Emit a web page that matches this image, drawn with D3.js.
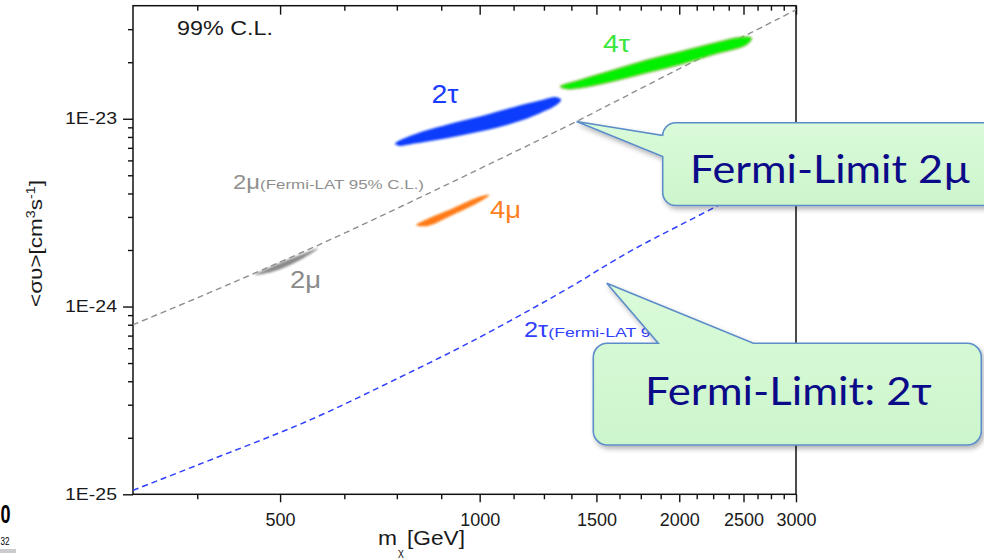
<!DOCTYPE html>
<html><head><meta charset="utf-8">
<script src="https://cdn.jsdelivr.net/npm/d3@7"></script>
<style>
html,body{margin:0;padding:0;background:#fff;}
svg{display:block;}
text{font-family:"Liberation Sans",Arial,sans-serif;}
</style></head><body>
<svg id="chart" width="984" height="559"></svg>
<script>
// ---------- data ----------
const xMajorTicks = [500, 1000, 1500, 2000, 2500, 3000];
const xMinorTicks = [375, 625, 750, 875, 1125, 1250, 1375, 1625, 1750, 1875, 2125, 2250, 2375, 2625, 2750, 2875];
const yMajorTicks = [1e-25, 1e-24, 1e-23];
const yMajorLabels = ["1E-25", "1E-24", "1E-23"];
const yMinorTicks = [2e-25, 3e-25, 4e-25, 5e-25, 6e-25, 7e-25, 8e-25, 9e-25,
                     2e-24, 3e-24, 4e-24, 5e-24, 6e-24, 7e-24, 8e-24, 9e-24, 2e-23, 3e-23];

// Fermi-LAT 95% C.L. limits
const limit2muMass  = [300, 379, 595, 1060, 1399, 1960, 2805, 3000];
const limit2muSigma = [8.0e-25, 1.13e-24, 2.27e-24, 5.98e-24, 9.67e-24, 1.78e-23, 3.37e-23, 3.81e-23];
const limit2tauMass  = [300, 375, 555, 758, 955, 1203, 1416, 1517, 1722, 2273, 3000];
const limit2tauSigma = [1.05e-25, 1.43e-25, 2.49e-25, 4.2e-25, 6.3e-25, 9.79e-25, 1.36e-24, 1.58e-24, 2.05e-24, 3.41e-24, 5.8e-24];

// 99% C.L. fit regions (outline)
const region2muMass  = [458, 488, 536, 571, 536, 488];
const region2muSigma = [1.473e-24, 1.645e-24, 1.883e-24, 2.044e-24, 1.771e-24, 1.535e-24];
const region4muMass  = [802, 832, 912, 1001, 1034, 1001, 912, 832];
const region4muSigma = [2.72e-24, 2.92e-24, 3.34e-24, 3.85e-24, 3.93e-24, 3.62e-24, 3.08e-24, 2.68e-24];
const region2tauMass  = [745, 794, 892, 1001, 1124, 1233, 1307, 1327, 1307, 1233, 1124, 1001, 892, 794, 758];
const region2tauSigma = [7.35e-24, 8.21e-24, 9.28e-24, 1.027e-23, 1.153e-23, 1.25e-23, 1.303e-23, 1.261e-23, 1.186e-23, 1.071e-23, 9.48e-24, 8.55e-24, 7.88e-24, 7.35e-24, 7.17e-24];
const region4tauMass  = [1322, 1417, 1590, 1786, 2005, 2251, 2470, 2572, 2528, 2251, 2005, 1786, 1590, 1417, 1345];
const region4tauSigma = [1.485e-23, 1.612e-23, 1.822e-23, 2.06e-23, 2.28e-23, 2.53e-23, 2.72e-23, 2.69e-23, 2.475e-23, 2.19e-23, 1.937e-23, 1.75e-23, 1.578e-23, 1.455e-23, 1.443e-23];

// callout anchor points (data units)
const callout2muTip  = [1400, 9.67e-24];
const callout2tauTip = [1555, 1.33e-24];

// ---------- drawing ----------
const zip = (a, b) => a.map((v, i) => [v, b[i]]);
const svg = d3.select("#chart");
const P = {left: 133, right: 796, top: 5.7, bottom: 494.3};
const x = d3.scaleLog().domain([300, 3000]).range([P.left, P.right]);
const y = d3.scaleLog().domain([1e-25, 4e-23]).range([P.bottom, P.top]);

const defs = svg.append("defs");
defs.append("clipPath").attr("id", "clip").append("rect")
  .attr("x", P.left).attr("y", P.top).attr("width", P.right - P.left).attr("height", P.bottom - P.top);
defs.append("filter").attr("id", "blur").attr("x", "-20%").attr("y", "-50%").attr("width", "140%").attr("height", "200%")
  .append("feGaussianBlur").attr("stdDeviation", 0.9);
const sh = defs.append("filter").attr("id", "shadow").attr("x", "-10%").attr("y", "-20%").attr("width", "130%").attr("height", "150%");
sh.append("feDropShadow").attr("dx", 2).attr("dy", 3).attr("stdDeviation", 2.5)
  .attr("flood-color", "#000").attr("flood-opacity", 0.3);
const gr = defs.append("linearGradient").attr("id", "boxfill").attr("x1", 0).attr("y1", 0).attr("x2", 0).attr("y2", 1);
gr.append("stop").attr("offset", "0%").attr("stop-color", "#dafbd9");
gr.append("stop").attr("offset", "100%").attr("stop-color", "#cdf5cc");

function styleAxis(g) {
  g.select(".domain").remove();
  g.selectAll(".tick line").attr("stroke", "#111").attr("stroke-width", 1.4);
}

// bottom axis
const gxMaj = svg.append("g").attr("transform", `translate(0,${P.bottom})`)
  .call(d3.axisBottom(x).tickValues(xMajorTicks).tickFormat(d => d).tickSize(8).tickPadding(11));
styleAxis(gxMaj);
gxMaj.selectAll("text").style("font-size", "18px").attr("fill", "#1a1a1a");
const gxMin = svg.append("g").attr("transform", `translate(0,${P.bottom})`)
  .call(d3.axisBottom(x).tickValues(xMinorTicks).tickFormat("").tickSize(5));
styleAxis(gxMin);

// top axis (inside ticks)
const gtMaj = svg.append("g").attr("transform", `translate(0,${P.top})`)
  .call(d3.axisTop(x).tickValues(xMajorTicks).tickFormat("").tickSize(-9));
styleAxis(gtMaj);
const gtMin = svg.append("g").attr("transform", `translate(0,${P.top})`)
  .call(d3.axisTop(x).tickValues(xMinorTicks).tickFormat("").tickSize(-5));
styleAxis(gtMin);

// left axis
const gyMaj = svg.append("g").attr("transform", `translate(${P.left},0)`)
  .call(d3.axisLeft(y).tickValues(yMajorTicks).tickFormat((d, i) => yMajorLabels[i]).tickSize(10).tickPadding(6));
styleAxis(gyMaj);
gyMaj.selectAll("text").style("font-size", "16px").attr("fill", "#1a1a1a")
  .attr("textLength", 52).attr("lengthAdjust", "spacingAndGlyphs");
const gyMin = svg.append("g").attr("transform", `translate(${P.left},0)`)
  .call(d3.axisLeft(y).tickValues(yMinorTicks).tickFormat("").tickSize(5));
styleAxis(gyMin);

// frame
svg.append("rect").attr("x", P.left).attr("y", P.top).attr("width", P.right - P.left).attr("height", P.bottom - P.top)
  .attr("fill", "none").attr("stroke", "#111").attr("stroke-width", 1.5);

// limit lines
const plotG = svg.append("g").attr("clip-path", "url(#clip)");
const line = d3.line().x(d => x(d[0])).y(d => y(d[1])).curve(d3.curveCatmullRom.alpha(0.5));
plotG.append("path").attr("d", line(zip(limit2tauMass, limit2tauSigma)))
  .attr("fill", "none").attr("stroke", "#3040ff").attr("stroke-width", 1.5).attr("stroke-dasharray", "6,4");
plotG.append("path").attr("d", line(zip(limit2muMass, limit2muSigma)))
  .attr("fill", "none").attr("stroke", "#8f8f8f").attr("stroke-width", 1.4).attr("stroke-dasharray", "6,4");

// regions
const blob = d3.line().x(d => x(d[0])).y(d => y(d[1])).curve(d3.curveCatmullRomClosed.alpha(0.5));
const regions = [
  {m: region2muMass, s: region2muSigma, fill: "#8a8a8a", stroke: "none"},
  {m: region4muMass, s: region4muSigma, fill: "#ff7a12", stroke: "none"},
  {m: region2tauMass, s: region2tauSigma, fill: "#0a3cfc", stroke: "none"},
  {m: region4tauMass, s: region4tauSigma, fill: "#05f005", stroke: "#8c9c48"}
];
regions.forEach(r => {
  plotG.append("path").attr("d", blob(zip(r.m, r.s)))
    .attr("fill", r.fill).attr("stroke", r.stroke).attr("stroke-width", 0.8).attr("filter", "url(#blur)");
});

// labels
function label(txt, px, py, size, color, len, anchor) {
  const t = svg.append("text").attr("x", px).attr("y", py).text(txt)
    .style("font-size", size + "px").attr("fill", color);
  if (len) t.attr("textLength", len).attr("lengthAdjust", "spacingAndGlyphs");
  if (anchor) t.attr("text-anchor", anchor);
  return t;
}
label("99% C.L.", 177, 35, 20, "#1a1a1a", 96);
label("2τ", 431.5, 103.3, 25, "#1a3cff", 27);
label("4τ", 603, 51.7, 23, "#3ae63a", 27);
label("4μ", 490, 218, 23, "#ff7f1f", 31);
label("2μ", 290, 288.3, 23, "#8a8a8a", 31);
label("2μ", 233, 189.3, 21, "#8f8f8f", 27);
label("(Fermi-LAT 95% C.L.)", 260, 189.3, 12.5, "#8f8f8f", 164);
label("2τ", 524, 337.3, 22, "#3040ff", 24);
label("(Fermi-LAT 95% C.L.)", 548.3, 337.3, 13, "#3040ff", 171);

// axis titles
const yl = svg.append("text").attr("transform", "translate(41.5,243.5) rotate(-90)")
  .attr("text-anchor", "middle").style("font-size", "19px").attr("fill", "#1a1a1a")
  .attr("textLength", 127).attr("lengthAdjust", "spacingAndGlyphs");
yl.append("tspan").text("<συ>[cm");
yl.append("tspan").attr("baseline-shift", "super").style("font-size", "12px").text("3");
yl.append("tspan").text("s");
yl.append("tspan").attr("baseline-shift", "super").style("font-size", "12px").text("-1");
yl.append("tspan").text("]");

label("m", 378, 545, 20, "#1a1a1a", 19);
label("χ", 398, 555.5, 11, "#1a1a1a");
label("[GeV]", 407, 545, 20, "#1a1a1a", 58);

// callouts
function calloutLeft(x0, y0, x1, y1, r, tip, b1, b2) {
  return `M${x0 + r},${y0} H${x1 - r} A${r},${r} 0 0 1 ${x1},${y0 + r} V${y1 - r} A${r},${r} 0 0 1 ${x1 - r},${y1}` +
         ` H${x0 + r} A${r},${r} 0 0 1 ${x0},${y1 - r} V${b2} L${tip[0]},${tip[1]} L${x0},${b1} V${y0 + r}` +
         ` A${r},${r} 0 0 1 ${x0 + r},${y0} Z`;
}
function calloutTop(x0, y0, x1, y1, r, tip, b1, b2) {
  return `M${x0 + r},${y0} H${b1} L${tip[0]},${tip[1]} L${b2},${y0} H${x1 - r} A${r},${r} 0 0 1 ${x1},${y0 + r}` +
         ` V${y1 - r} A${r},${r} 0 0 1 ${x1 - r},${y1} H${x0 + r} A${r},${r} 0 0 1 ${x0},${y1 - r}` +
         ` V${y0 + r} A${r},${r} 0 0 1 ${x0 + r},${y0} Z`;
}
const t1 = [x(callout2muTip[0]), y(callout2muTip[1])];
const t2 = [x(callout2tauTip[0]), y(callout2tauTip[1])];
svg.append("path").attr("d", calloutLeft(662.7, 122.7, 1000, 205.5, 13, t1, 135.5, 156.5))
  .attr("fill", "url(#boxfill)").attr("stroke", "#5b8dc8").attr("stroke-width", 1.6).attr("filter", "url(#shadow)");
svg.append("path").attr("d", calloutTop(593.3, 343.3, 981.3, 445, 14, t2, 658.3, 753.3))
  .attr("fill", "url(#boxfill)").attr("stroke", "#5b8dc8").attr("stroke-width", 1.6).attr("filter", "url(#shadow)");
svg.append("text").attr("x", 690).attr("y", 183.3).text("Fermi-Limit 2µ")
  .style("font-family", "Lato, 'Open Sans', 'Noto Sans', sans-serif").style("font-size", "39px")
  .attr("fill", "#0b0b8a").attr("textLength", 281).attr("lengthAdjust", "spacingAndGlyphs");
svg.append("text").attr("x", 645).attr("y", 405).text("Fermi-Limit: 2τ")
  .style("font-family", "Lato, 'Open Sans', 'Noto Sans', sans-serif").style("font-size", "39px")
  .attr("fill", "#0b0b8a").attr("textLength", 287).attr("lengthAdjust", "spacingAndGlyphs");

// slide remnants at the left edge
svg.append("text").attr("x", 0.5).attr("y", 523).text("0")
  .style("font-size", "26px").style("font-weight", "bold").attr("fill", "#000")
  .attr("textLength", 10).attr("lengthAdjust", "spacingAndGlyphs");
svg.append("text").attr("x", 0.5).attr("y", 545).text("32")
  .style("font-size", "10px").attr("fill", "#000")
  .attr("textLength", 9).attr("lengthAdjust", "spacingAndGlyphs");
svg.append("rect").attr("x", 0).attr("y", 549).attr("width", 16).attr("height", 4).attr("fill", "#cccccc");
</script>
</body></html>
